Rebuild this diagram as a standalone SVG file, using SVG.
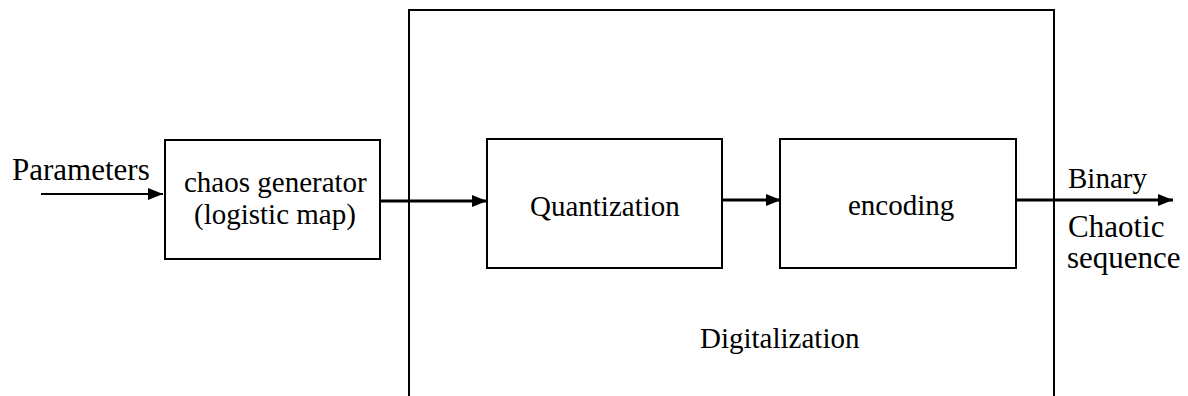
<svg xmlns="http://www.w3.org/2000/svg" width="1188" height="396" viewBox="0 0 1188 396">
  <style>
    .box { fill: #fff; stroke: #000; stroke-width: 2; }
    .frame { fill: none; stroke: #000; stroke-width: 2; }
    .wire { fill: none; stroke: #000; stroke-width: 3; }
    .wire-thin { fill: none; stroke: #000; stroke-width: 2; }
    .lbl { font-family: 'Liberation Serif', 'Times New Roman', serif; font-size: 29px; fill: #000; }
    .big { font-size: 31px; }
  </style>
  <defs>
    <marker id="head" markerUnits="userSpaceOnUse" markerWidth="16" markerHeight="12" refX="15" refY="6" orient="auto">
      <path d="M0,0 L15,6 L0,12 Z" fill="#000"/>
    </marker>
  </defs>
  <rect width="1188" height="396" fill="#fff"/>

  <!-- Digitalization stage: open-bottomed frame -->
  <g id="digitalization">
    <path class="frame" d="M409,396 V10 H1054 V396"/>
    <text class="lbl" x="700" y="348">Digitalization</text>
  </g>

  <g id="chaos-generator">
    <rect class="box" x="165" y="140" width="215" height="119"/>
    <text class="lbl"><tspan x="184" y="192">chaos generator</tspan><tspan x="194" y="224">(logistic map)</tspan></text>
  </g>

  <g id="quantization">
    <rect class="box" x="487" y="139" width="235" height="129"/>
    <text class="lbl" x="530" y="216">Quantization</text>
  </g>

  <g id="encoding">
    <rect class="box" x="780" y="139" width="236" height="129"/>
    <text class="lbl" x="848" y="215">encoding</text>
  </g>

  <g id="labels">
    <text class="lbl big" x="12" y="180">Parameters</text>
    <text class="lbl" x="1068" y="188">Binary</text>
    <text class="lbl big"><tspan x="1068" y="237">Chaotic</tspan><tspan x="1067" y="268">sequence</tspan></text>
  </g>

  <g id="connectors">
    <line class="wire-thin" x1="41" y1="194" x2="163" y2="194" marker-end="url(#head)"/>
    <line class="wire" x1="380" y1="201" x2="487" y2="201" marker-end="url(#head)"/>
    <line class="wire" x1="722" y1="200" x2="781" y2="200" marker-end="url(#head)"/>
    <line class="wire" x1="1016" y1="200" x2="1173" y2="200" marker-end="url(#head)"/>
  </g>
</svg>
